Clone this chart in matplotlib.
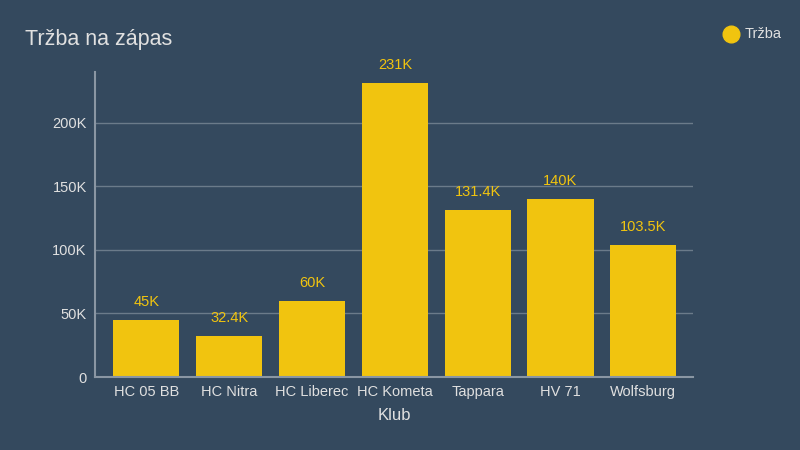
import matplotlib.pyplot as plt

plt.rcParams['font.family'] = ['Liberation Sans', 'DejaVu Sans']

# data
clubs = ["HC 05 BB", "HC Nitra", "HC Liberec", "HC Kometa", "Tappara", "HV 71", "Wolfsburg"]
revenue = [45000, 32400, 60000, 231000, 131400, 140000, 103500]
value_labels = ["45K", "32.4K", "60K", "231K", "131.4K", "140K", "103.5K"]
y_ticks = [0, 50000, 100000, 150000, 200000]
y_tick_labels = ["0", "50K", "100K", "150K", "200K"]

bg = '#34495e'
bar_color = '#f1c40f'
text_color = '#e0e0e0'
grid_color = '#6b7b8a'

fig = plt.figure(figsize=(8, 4.5), dpi=100, facecolor=bg)
ax = fig.add_axes([0.11875, 0.1622, 0.7475, 0.6778])
ax.set_facecolor(bg)

x = range(len(clubs))
ax.bar(x, revenue, width=0.8, color=bar_color, zorder=2)

# value labels above bars
for xi, v, lab in zip(x, revenue, value_labels):
    ax.annotate(lab, (xi, v), xytext=(0, 8), textcoords='offset points',
                ha='center', va='bottom', color=bar_color, fontsize=10.5)

ax.set_xlim(-0.62, 6.6)
ax.set_ylim(0, 240000)
ax.set_xticks(list(x))
ax.set_xticklabels(clubs, color=text_color, fontsize=10.5)
ax.set_yticks(y_ticks)
ax.set_yticklabels(y_tick_labels, color=text_color, fontsize=10.5)
ax.tick_params(length=0, pad=6)

for yt in y_ticks[1:]:
    ax.axhline(yt, color=grid_color, linewidth=1, zorder=1)

for s in ['top', 'right']:
    ax.spines[s].set_visible(False)
for s in ['left', 'bottom']:
    ax.spines[s].set_color('#8a96a3')
    ax.spines[s].set_linewidth(1.5)

ax.set_xlabel('Klub', color=text_color, fontsize=12, labelpad=6)

fig.text(25 / 800, 1 - 40 / 450, 'Tržba na zápas', color=text_color, fontsize=15.5,
         ha='left', va='center')

# legend
fig.text(745 / 800, 1 - 34 / 450, 'Tržba', color=text_color, fontsize=10.5, ha='left', va='center')
fig.add_artist(plt.Line2D([731 / 800], [1 - 34 / 450], marker='o', markersize=12,
                          color=bar_color, linestyle='None', transform=fig.transFigure))

fig.savefig('out.png', dpi=100, facecolor=bg)
